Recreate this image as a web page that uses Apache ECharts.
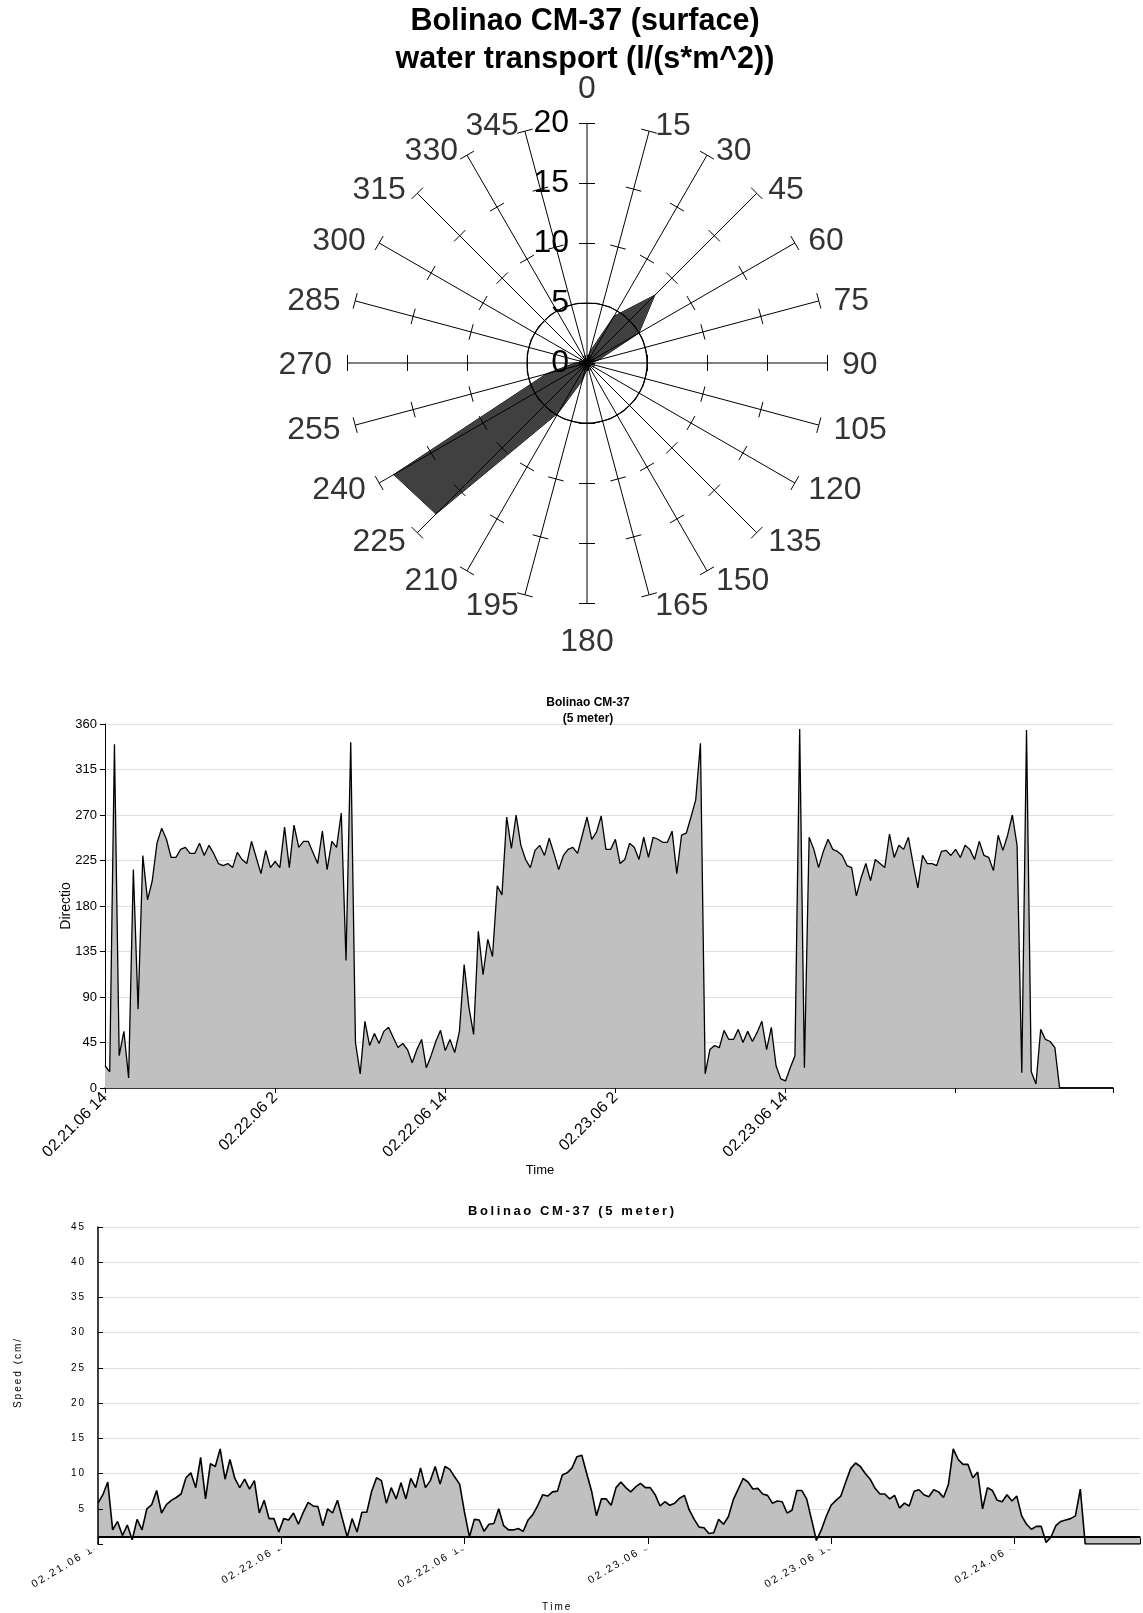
<!DOCTYPE html>
<html>
<head>
<meta charset="utf-8">
<title>Bolinao CM-37</title>
<script src="https://cdn.jsdelivr.net/npm/echarts@6.0.0/dist/echarts.min.js"></script>
<style>
  html, body { margin: 0; padding: 0; background: #ffffff; }
  #chart { width: 1143px; height: 1613px; }
</style>
</head>
<body>
<div id="chart"></div>
<script>
// ---------- Rose: surface water transport by direction ----------
const roseDirections = [0, 15, 30, 45, 60, 75, 90, 105, 120, 135, 150, 165,
                        180, 195, 210, 225, 240, 255, 270, 285, 300, 315, 330, 345];
const roseTransport  = [0.3, 1.0, 4.5, 8.0, 5.0, 1.0, 0.3, 0.2, 0.2, 0.2, 0.2, 0.3,
                        0.5, 1.5, 4.8, 17.8, 18.6, 3.5, 1.0, 0.3, 0.2, 0.2, 0.2, 0.2];

// ---------- Time series, 20-minute samples from 02.21.06 14:00 ----------
const directionDeg = [
  22, 16, 340, 32, 56, 10, 216, 78, 230, 186,
  205, 242, 257, 246, 228, 228, 236, 238, 232, 232,
  242, 230, 240, 232, 222, 220, 222, 218, 233, 226,
  222, 244, 228, 212, 235, 218, 224, 218, 258, 218,
  260, 238, 244, 244, 233, 222, 254, 216, 244, 238,
  272, 126, 342, 45, 14, 66, 42, 54, 44, 56,
  60, 50, 40, 44, 38, 25, 38, 48, 20, 32,
  46, 57, 37, 48, 35, 56, 122, 80, 53, 155,
  112, 147, 130, 200, 191, 268, 237, 270, 240, 226,
  218, 235, 240, 230, 247, 232, 216, 230, 236, 238,
  232, 250, 268, 246, 253, 269, 236, 236, 246, 222,
  226, 242, 238, 226, 248, 228, 248, 246, 243, 243,
  254, 212, 250, 252, 268, 285, 341, 14, 38, 42,
  40, 57, 48, 48, 58, 45, 56, 46, 55, 66,
  38, 60, 22, 9, 7, 20, 32, 355, 20, 248,
  236, 218, 234, 246, 236, 234, 230, 220, 218, 190,
  208, 222, 205, 226, 222, 218, 251, 228, 240, 236,
  248, 222, 198, 230, 222, 222, 220, 234, 235, 230,
  236, 228, 240, 236, 226, 244, 230, 228, 215, 250,
  235, 250, 270, 240, 15, 354, 16, 4, 58, 48,
  46, 40, 0
];
const speedCms = [
  5.8, 7.0, 8.8, 2.0, 3.2, 1.2, 2.7, 0.6, 3.5, 2.0,
  5.0, 5.6, 7.6, 4.4, 5.6, 6.2, 6.6, 7.1, 9.4, 10.1,
  8.0, 12.3, 6.4, 11.4, 11.0, 13.5, 9.2, 12.0, 9.3, 8.0,
  9.2, 7.8, 9.0, 4.4, 6.2, 3.6, 3.6, 1.7, 3.6, 3.4,
  4.4, 2.8, 4.5, 5.9, 5.4, 5.3, 2.6, 5.0, 4.4, 6.2,
  3.6, 1.0, 3.6, 1.7, 4.5, 4.5, 7.5, 9.4, 9.0, 5.8,
  8.0, 6.4, 8.7, 6.4, 9.3, 8.0, 10.8, 8.0, 9.0, 11.0,
  8.5, 11.0, 10.6, 9.5, 8.5, 4.5, 1.0, 3.5, 3.4, 1.8,
  2.8, 2.9, 5.0, 2.6, 2.0, 2.0, 2.2, 1.8, 3.4, 4.2,
  5.5, 7.0, 6.8, 7.4, 7.5, 9.8, 10.1, 10.8, 12.4, 12.6,
  10.0, 7.5, 4.0, 6.4, 6.4, 5.5, 8.0, 8.8, 8.0, 7.4,
  8.1, 8.6, 8.0, 8.0, 7.0, 5.4, 6.0, 5.5, 5.8, 6.5,
  6.9, 4.8, 3.5, 2.4, 2.3, 1.5, 1.6, 3.5, 2.8, 3.9,
  6.3, 7.8, 9.3, 8.8, 7.8, 7.9, 7.1, 6.9, 5.8, 6.1,
  6.0, 4.4, 4.8, 7.6, 7.6, 6.4, 3.5, 0.5, 2.0, 3.9,
  5.5, 6.2, 6.8, 8.8, 10.7, 11.5, 11.0, 10.0, 9.2, 7.9,
  7.1, 7.1, 6.4, 6.9, 5.1, 5.8, 5.4, 7.5, 7.7, 7.0,
  6.7, 7.7, 7.4, 6.6, 8.4, 13.5, 12.0, 11.3, 11.3, 9.4,
  10.2, 5.0, 8.0, 7.6, 6.2, 6.0, 7.0, 6.1, 6.8, 4.0,
  2.8, 2.1, 2.5, 2.5, 0.2, 1.0, 2.6, 3.2, 3.4, 3.6,
  4.0, 7.8, 0
];

// Tick labels of the two time axes
const directionTimeLabels = ['02.21.06 14', '02.22.06 2', '02.22.06 14', '02.23.06 2', '02.23.06 14'];
const speedTimeLabels = ['02.21.06 14', '02.22.06 2', '02.22.06 15', '02.23.06 3', '02.23.06 16', '02.24.06 4'];

// ---------- Layout / scale settings ----------
const FONT = "'Liberation Sans', Arial, Helvetica, sans-serif";
const SAMPLE_HOURS = 1 / 3;
const DIR_TICK_HOURS = 12;
const SPEED_TICK_HOURS = 12.5;
const AXIS_END_HOURS = 71.1;
const SPEED_AXIS_CROSS = 1;       // value where the speed time axis crosses

const ROSE_CENTER = [587, 363];
const ROSE_RADIUS = 240;
const ROSE_MAX = 20;
const ROSE_RING = 5;
const ROSE_FONT = 32;

// spread characters a little, like the letter-spaced chart fonts
const spaced = s => Array.from(s).join('\u2009');

// radar runs counter-clockwise, so feed compass directions in reverse order
const ccwIndex = roseDirections.map((d, k) => (roseDirections.length - k) % roseDirections.length);
const radarIndicators = ccwIndex.map(i => ({ name: String(roseDirections[i]), min: 0, max: ROSE_MAX }));
const radarValues = ccwIndex.map(i => roseTransport[i]);

// direction labels sit just outside each spoke end
const directionLabelData = roseDirections.map(d => {
  const a = d * Math.PI / 180, s = Math.sin(a), c = Math.cos(a);
  let align, dx, dy;
  if (Math.abs(s) < 0.01) { align = 'center'; dx = 0; dy = c > 0 ? -34 : 39; }
  else {
    align = s > 0 ? 'left' : 'right';
    dx = 12 * s + 3 * Math.sign(s);
    dy = 2 - (c > 0 ? 7 : 10) * c;
  }
  return { value: [ROSE_MAX, d], label: { align: align, verticalAlign: 'middle', offset: [dx, dy] } };
});

function toPoints(values) {
  const pts = values.map((v, i) => [i * SAMPLE_HOURS, v]);
  pts.push([AXIS_END_HOURS, 0]);
  return pts;
}

function tickLabel(labels, step) {
  return v => {
    const k = Math.round(v / step);
    return (Math.abs(v - k * step) < 1e-6 && k < labels.length) ? labels[k] : '';
  };
}

// two radars share the spokes: one draws the tick marks on each side
const tickRadar = (len) => ({
  center: ROSE_CENTER, radius: ROSE_RADIUS, startAngle: 90, splitNumber: 4, shape: 'circle',
  indicator: radarIndicators, z: 6,
  axisName: { show: false },
  axisLine: { show: false },
  axisLabel: { show: false },
  splitLine: { show: false },
  splitArea: { show: false },
  axisTick: { show: true, length: len, lineStyle: { color: '#000', width: 1 } }
});

const chart = echarts.init(document.getElementById('chart'), null, { renderer: 'canvas' });

const option = {
  animation: false,
  backgroundColor: '#ffffff',
  textStyle: { fontFamily: FONT, color: '#000' },
  title: [
    {
      text: 'Bolinao CM-37 (surface)\nwater transport (l/(s*m^2))',
      left: 580, top: -2, textAlign: 'center',
      textStyle: { fontSize: 30.5, fontWeight: 'bold', lineHeight: 38, color: '#000', fontFamily: FONT }
    },
    {
      text: 'Bolinao CM-37\n(5 meter)',
      left: 583, top: 690, textAlign: 'center',
      textStyle: { fontSize: 12, fontWeight: 'bold', lineHeight: 15.5, color: '#000', fontFamily: FONT }
    },
    {
      text: spaced('Bolinao CM-37 (5 meter)'),
      left: 566, top: 1200, textAlign: 'center',
      textStyle: { fontSize: 13, fontWeight: 'bold', color: '#000', fontFamily: FONT }
    }
  ],
  radar: [tickRadar(8), tickRadar(-8)],
  polar: [
    { center: ROSE_CENTER, radius: ROSE_RADIUS },
    { center: ROSE_CENTER, radius: ROSE_RADIUS * ROSE_RING / ROSE_MAX }
  ],
  angleAxis: [
    {
      polarIndex: 0, type: 'value', min: 0, max: 360, interval: 15, startAngle: 90, clockwise: true, z: 5,
      axisLine: { show: false }, axisTick: { show: false }, axisLabel: { show: false },
      splitLine: { show: true, lineStyle: { color: '#000', width: 1 } }
    },
    {
      polarIndex: 1, type: 'value', min: 0, max: 360, startAngle: 90, z: 5,
      axisLine: { show: true, lineStyle: { color: '#000', width: 1.2 } },
      axisTick: { show: false }, axisLabel: { show: false }, splitLine: { show: false }
    }
  ],
  radiusAxis: [
    {
      polarIndex: 0, type: 'value', min: 0, max: ROSE_MAX, interval: 5, z: 6,
      axisLine: { show: false }, axisTick: { show: false }, splitLine: { show: false },
      axisLabel: { show: true, fontSize: ROSE_FONT, color: '#000', margin: 18, fontFamily: FONT }
    },
    { polarIndex: 1, type: 'value', min: 0, max: ROSE_RING, show: false }
  ],
  grid: [
    { left: 105, top: 724, width: 1008, height: 364 },
    { left: 98, top: 1227, right: 0, height: 323 }
  ],
  xAxis: [
    {
      gridIndex: 0, type: 'value', min: 0, max: AXIS_END_HOURS, interval: DIR_TICK_HOURS,
      name: 'Time', nameLocation: 'middle', nameGap: 66,
      nameTextStyle: { fontSize: 13, color: '#000', padding: [0, 138, 0, 0] },
      axisLine: { show: true, lineStyle: { color: '#000', width: 1.5 } },
      axisTick: { show: true, length: 5, lineStyle: { color: '#000' } },
      axisLabel: { rotate: 45, fontSize: 16, color: '#000', margin: 7, formatter: tickLabel(directionTimeLabels, DIR_TICK_HOURS) },
      splitLine: { show: false }
    },
    {
      gridIndex: 1, type: 'value', min: 0, max: AXIS_END_HOURS, interval: SPEED_TICK_HOURS, position: 'bottom', z: 0,
      name: spaced('Time'), nameLocation: 'middle', nameGap: 58,
      nameTextStyle: { fontSize: 10, color: '#000', padding: [0, 126, 0, 0] },
      axisLine: { show: false }, axisTick: { show: false },
      axisLabel: { rotate: 31, fontSize: 10.5, color: '#000', margin: 2,
        formatter: v => spaced(tickLabel(speedTimeLabels, SPEED_TICK_HOURS)(v)) },
      splitLine: { show: false }
    },
    {
      gridIndex: 1, type: 'value', min: 0, max: AXIS_END_HOURS, interval: SPEED_TICK_HOURS, position: 'bottom', z: 4,
      axisLine: { show: false }, axisLabel: { show: false }, splitLine: { show: false },
      axisTick: { show: true, inside: true, length: 6, lineStyle: { color: '#000' } }
    }
  ],
  yAxis: [
    {
      gridIndex: 0, type: 'value', min: 0, max: 360, interval: 45,
      name: 'Direction', nameLocation: 'middle', nameGap: 32, nameMoveOverlap: false,
      nameTruncate: { maxWidth: 54, ellipsis: '' },
      nameTextStyle: { fontSize: 14, color: '#000' },
      axisLine: { show: true, lineStyle: { color: '#000', width: 1 } },
      axisTick: { show: true, length: 5, lineStyle: { color: '#000' } },
      axisLabel: { fontSize: 13, color: '#000', margin: 8 },
      splitLine: { show: true, lineStyle: { color: '#dedede', width: 1 } }
    },
    {
      gridIndex: 1, type: 'value', min: 0, max: 45, interval: 5, z: 0,
      // the axis title is cut short at the chart edge
      name: spaced('Speed (cm/'), nameLocation: 'middle', nameGap: 75, nameMoveOverlap: false,
      nameTextStyle: { fontSize: 10, color: '#000', padding: [0, 0, 0, 24] },
      axisLine: { show: false }, axisTick: { show: false },
      axisLabel: { fontSize: 10, color: '#000', margin: 14, formatter: v => v === 0 ? '' : spaced(String(v)) },
      splitLine: { show: true, lineStyle: { color: '#dedede', width: 1 } }
    },
    {
      gridIndex: 1, type: 'value', min: 0, max: 45, interval: 5, z: 4,
      axisLine: { show: true, lineStyle: { color: '#000', width: 1.5 } },
      axisTick: { show: true, length: 5, lineStyle: { color: '#000' } },
      axisLabel: { show: false }, splitLine: { show: false }
    }
  ],
  graphic: [
    {
      // masks the top of the rotated speed time labels where they run under the plot
      type: 'rect', z: 1, silent: true,
      shape: { x: 0, y: 1521, width: 1143, height: 28.5 },
      style: { fill: '#ffffff' }
    }
  ],
  series: [
    {
      type: 'radar', radarIndex: 0, z: 2, symbol: 'none', silent: true,
      lineStyle: { color: '#000', width: 1 },
      areaStyle: { color: '#404040', opacity: 1 },
      data: [{ value: radarValues }]
    },
    {
      type: 'scatter', coordinateSystem: 'polar', polarIndex: 0, symbolSize: 0, silent: true, z: 7,
      label: {
        show: true, position: 'inside', fontSize: ROSE_FONT, color: '#000', fontFamily: FONT,
        formatter: p => String(p.value[1])
      },
      data: directionLabelData
    },
    {
      type: 'line', xAxisIndex: 0, yAxisIndex: 0, symbol: 'none', silent: true, z: 2,
      lineStyle: { color: '#000', width: 1.3 },
      areaStyle: { color: '#c0c0c0', opacity: 1 },
      data: toPoints(directionDeg)
    },
    {
      type: 'line', xAxisIndex: 1, yAxisIndex: 1, symbol: 'none', silent: true, z: 2,
      lineStyle: { color: '#000', width: 1.6 },
      areaStyle: { color: '#c0c0c0', opacity: 1, origin: SPEED_AXIS_CROSS },
      data: toPoints(speedCms),
      markLine: {
        silent: true, symbol: 'none', label: { show: false },
        lineStyle: { color: '#000', width: 2, type: 'solid' },
        data: [{ yAxis: SPEED_AXIS_CROSS }]
      }
    }
  ]
};

chart.setOption(option);
</script>
</body>
</html>
